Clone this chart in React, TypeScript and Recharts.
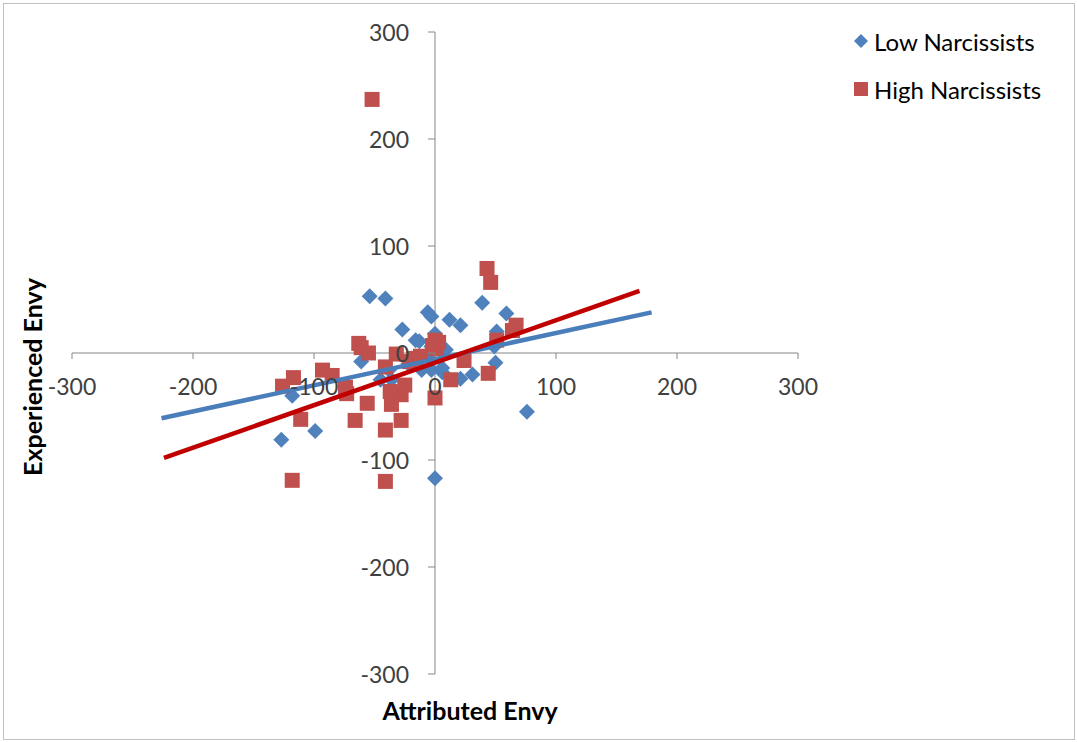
import React from 'react'
import { ScatterChart, Scatter, XAxis, YAxis, ReferenceLine } from 'recharts'

// Attributed envy (x) vs experienced envy (y)
const lowNarcissists: [number, number][] = [
  [-54, 53], [-41, 51], [39, 47], [59, 37], [-6, 38], [-3, 34], [12, 31], [21, 26],
  [-27, 22], [51, 20], [-16, 12], [-13, 11], [0, 18], [-3, 6], [3, 4], [9, 3],
  [49, 6], [-61, -8], [-38, -16], [-16, -6], [-5, -4], [-3, -16], [6, -14], [6, -18],
  [21, -24], [31, -20], [50, -9], [-118, -40], [-127, -81], [-99, -73], [0, -117],
  [76, -55], [-22, -10], [-36, -25], [-11, -16], [-45, -25],
]
const highNarcissists: [number, number][] = [
  [-52, 237], [43, 79], [46, 66], [67, 26], [64, 21], [51, 12], [-63, 9], [-61, 5],
  [-55, 0], [-126, -31], [-117, -23], [-111, -62], [-118, -119], [-93, -16], [-85, -21],
  [-74, -32], [-73, -38], [-66, -63], [-56, -47], [-41, -72], [-41, -120], [-36, -48],
  [-28, -63], [-28, -39], [-25, -30], [-41, -13], [-32, -1], [-21, -8], [-17, -5],
  [0, 12], [3, 10], [1, 4], [0, -42], [13, -25], [24, -7], [44, -19], [-37, -36],
  [-2, 7], [-12, -3],
]
// linear trend lines, endpoints as drawn
const lowTrend: [number, number][] = [[-226, -61], [179, 38]]
const highTrend: [number, number][] = [[-224, -98], [169, 58]]

const ticks = [-300, -200, -100, 0, 100, 200, 300]
const seriesNames = ['Low Narcissists', 'High Narcissists']

const W = 1077
const H = 742
const X_AXIS_H = 30
const Y_AXIS_W = 40
// plot area: x 72..798, y 32..674
const margin = { top: 32, right: 279, bottom: 68 - X_AXIS_H, left: 72 - Y_AXIS_W }
const ZERO_Y = 353
const ZERO_X = 435
const FONT = 'Lato, "Open Sans", sans-serif'
const BLUE = '#4F81BD'
const RED = '#C0504D'
const AXIS = '#868686'

const toPts = (a: [number, number][]) => a.map(([x, y]) => ({ x, y }))

const Diamond = (p: any) => (
  <polygon
    points={`${p.cx},${p.cy - 8} ${p.cx + 8},${p.cy} ${p.cx},${p.cy + 8} ${p.cx - 8},${p.cy}`}
    fill={BLUE}
  />
)
const Square = (p: any) => <rect x={p.cx - 7.5} y={p.cy - 7.5} width={15} height={15} fill={RED} />
const NoDot = () => <g />

const XTick = (p: any) => (
  <g>
    <line x1={p.x} x2={p.x} y1={ZERO_Y} y2={ZERO_Y + 6} stroke={AXIS} />
    <text x={p.x} y={ZERO_Y + 33} textAnchor="middle" dominantBaseline="central"
      fontFamily={FONT} fontSize={23} fill="#404040">{p.payload.value}</text>
  </g>
)
const YTick = (p: any) => (
  <g>
    <line x1={ZERO_X - 7} x2={ZERO_X} y1={p.y} y2={p.y} stroke={AXIS} />
    <text x={ZERO_X - 26} y={p.y} textAnchor="end" dominantBaseline="central"
      fontFamily={FONT} fontSize={23} fill="#404040">{p.payload.value}</text>
  </g>
)

export default function App() {
  return (
    <div style={{ position: 'absolute', left: 0, top: 0, width: W, height: H, background: '#fff' }}>
      <div style={{ position: 'absolute', left: 3, top: 3, width: W - 7, height: H - 7, border: '1px solid #BFBFBF' }} />
      <ScatterChart width={W} height={H} margin={margin}>
        <XAxis type="number" dataKey="x" domain={[-300, 300]} ticks={ticks} interval={0}
          axisLine={false} tickLine={false} height={X_AXIS_H} tick={<XTick />} />
        <YAxis type="number" dataKey="y" domain={[-300, 300]} ticks={ticks} interval={0}
          axisLine={false} tickLine={false} width={Y_AXIS_W} tick={<YTick />} />
        <ReferenceLine x={0} stroke={AXIS} strokeWidth={1} />
        <ReferenceLine y={0} stroke={AXIS} strokeWidth={1} />
        <Scatter name={seriesNames[0]} data={toPts(lowNarcissists)} shape={<Diamond />} isAnimationActive={false} />
        <Scatter name={seriesNames[1]} data={toPts(highNarcissists)} shape={<Square />} isAnimationActive={false} />
        <Scatter data={toPts(lowTrend)} line={{ stroke: '#4A7EBB', strokeWidth: 4.5 }} shape={<NoDot />}
          legendType="none" isAnimationActive={false} />
        <Scatter data={toPts(highTrend)} line={{ stroke: '#C00000', strokeWidth: 4.5 }} shape={<NoDot />}
          legendType="none" isAnimationActive={false} />
      </ScatterChart>
      <div style={{ position: 'absolute', left: 851, top: 17, fontFamily: FONT, fontSize: 24, color: '#000' }}>
        {seriesNames.map((name, i) => (
          <div key={name} style={{ display: 'flex', alignItems: 'center', height: 48 }}>
            <svg width={20} height={20} style={{ marginRight: 3 }}>
              {i === 0
                ? <polygon points="10,3 17,10 10,17 3,10" fill={BLUE} />
                : <rect x={3} y={3} width={14} height={14} fill={RED} />}
            </svg>
            <span>{name}</span>
          </div>
        ))}
      </div>
      <div style={{ position: 'absolute', left: 470, top: 710, transform: 'translate(-50%, -50%)',
        fontFamily: FONT, fontSize: 25, fontWeight: 'bold', whiteSpace: 'nowrap' }}>Attributed Envy</div>
      <div style={{ position: 'absolute', left: 32, top: 377, transform: 'translate(-50%, -50%) rotate(-90deg)',
        fontFamily: FONT, fontSize: 25, fontWeight: 'bold', whiteSpace: 'nowrap' }}>Experienced Envy</div>
    </div>
  )
}
